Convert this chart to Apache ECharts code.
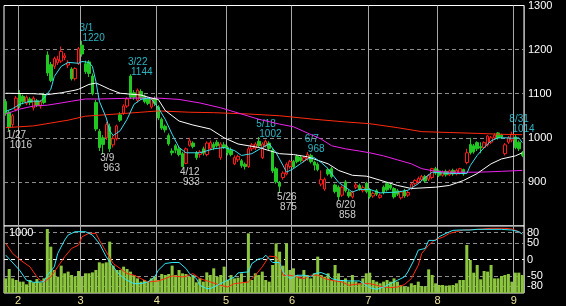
<!DOCTYPE html>
<html><head><meta charset="utf-8">
<script src="https://cdn.jsdelivr.net/npm/echarts@6/dist/echarts.min.js"></script>
<style>html,body{margin:0;padding:0;background:#000;}#c{width:566px;height:306px;}</style>
</head><body><div id="c"></div>
<script>
// trading days per month (2022)
const monthDays = [
  [1, [26,27,28,31]],
  [2, [1,2,3,4,7,8,9,10,14,15,16,17,18,21,22,24,25,28]],
  [3, [1,2,3,4,7,8,9,10,11,14,15,16,17,18,22,23,24,25,28,29,30,31]],
  [4, [1,4,5,6,7,8,11,12,13,14,15,18,19,20,21,22,25,26,27,28]],
  [5, [2,6,9,10,11,12,13,16,17,18,19,20,23,24,25,26,27,30,31]],
  [6, [1,2,3,6,7,8,9,10,13,14,15,16,17,20,21,22,23,24,27,28,29,30]],
  [7, [1,4,5,6,7,8,11,12,13,14,15,19,20,21,22,25,26,27,28,29]],
  [8, [1,2,3,4,5,8,9,10,12,15,16,17,18,19,22,23,24,25,26,29,30,31]],
  [9, [1,2,5]]
];
const opens = [1082,1058,1030,1064,1100,1094,1078,1088,1068,1084,1072,1098,1188,1166,1162,1170,1174,1182,1165,1156,1134,1168,1210,1168,1172,1140,1080,1015,1000,1000,1025,984,998,1052,1056,1072,1140,1102,1085,1105,1095,1088,1070,1088,1070,1042,1026,1005,970,982,975,964,942,983,988,966,962,975,962,976,985,990,955,984,978,972,941,950,948,940,935,975,977,992,955,982,988,972,930,898,910,918,935,946,958,956,948,952,960,945,940,895,884,928,930,893,888,870,900,877,866,888,892,880,897,882,868,880,865,888,896,893,885,880,864,880,870,885,896,900,905,912,906,910,930,925,915,924,916,926,918,920,928,944,985,982,989,980,978,984,990,1000,1011,1006,964,990,995,1002,990,966];
const closes = [1056,1024,1050,1090,1072,1082,1092,1080,1090,1074,1082,1080,1147,1130,1180,1178,1196,1186,1170,1134,1157,1202,1190,1150,1146,1100,1020,978,985,1030,975,998,1027,1040,1072,1088,1092,1092,1108,1090,1082,1078,1088,1078,1045,1022,1018,986,966,972,962,935,975,993,980,955,968,965,988,989,978,982,986,978,966,962,955,958,937,935,975,984,986,982,986,992,976,925,900,890,920,940,946,934,946,948,955,962,946,938,928,905,906,918,912,878,866,888,880,868,876,893,884,887,878,866,874,872,870,876,882,886,866,872,877,868,876,895,903,908,912,902,915,930,920,915,922,916,925,918,926,930,918,966,966,968,975,977,989,1004,1000,1006,1000,1002,984,1000,1008,978,975,960];
const lows = [1050,1016,1024,1060,1068,1076,1074,1074,1062,1070,1066,1076,1140,1126,1156,1165,1170,1176,1158,1130,1130,1165,1184,1145,1138,1096,1015,970,963,995,968,978,994,1036,1052,1068,1088,1086,1080,1086,1078,1074,1066,1072,1040,1018,1012,982,960,965,958,933,940,980,976,950,955,960,958,972,972,978,950,975,960,958,938,945,932,928,932,970,972,978,952,978,972,920,896,875,905,915,930,930,942,944,944,948,942,926,924,890,880,914,908,874,858,866,876,864,862,884,880,876,874,862,864,868,862,872,878,882,862,868,860,864,866,882,892,896,902,898,902,906,916,911,912,912,913,914,915,917,914,940,962,964,970,965,975,980,986,996,996,998,960,986,990,974,970,956];
const highs = [1088,1062,1054,1095,1108,1098,1096,1092,1094,1088,1086,1102,1196,1172,1184,1186,1207,1192,1176,1160,1160,1206,1220,1175,1176,1146,1086,1020,1006,1036,1032,1005,1030,1058,1076,1092,1144,1108,1112,1110,1098,1092,1092,1094,1074,1046,1030,1010,976,986,980,968,978,1000,992,970,972,980,992,994,990,995,990,990,982,978,960,962,952,944,980,988,990,1002,990,996,992,976,934,902,924,944,950,950,962,960,958,968,964,948,944,926,910,932,934,896,892,892,904,882,880,898,896,892,900,886,878,884,874,892,900,897,888,884,880,884,880,898,906,912,916,916,918,932,934,928,926,928,928,930,930,932,930,975,1000,986,992,990,992,1006,1004,1010,1013,1009,988,1004,1014,1006,994,970];
const volumes = [244,400,244,217,189,189,144,217,178,233,178,244,1067,772,383,272,456,328,356,300,272,367,272,328,328,344,383,511,494,511,856,456,383,383,439,400,356,300,244,189,217,189,244,272,217,317,300,317,456,300,383,328,317,272,300,178,244,189,344,300,411,272,300,439,217,300,244,256,328,178,994,217,328,300,356,217,189,467,828,689,456,828,383,411,300,244,383,300,244,328,606,300,272,328,217,467,328,217,244,189,300,189,161,244,328,339,217,189,161,189,217,189,244,189,133,106,106,161,133,189,117,106,394,300,161,133,133,122,128,133,161,217,217,800,550,339,467,228,367,356,467,244,244,283,300,317,189,339,339,300];
// moving averages: [day index, price]
const maShort = [[0,1060],[2,1066],[4,1076],[7,1083],[10,1083],[11,1090],[13,1110],[14,1139],[16,1162],[18,1171],[21,1169],[22,1173],[24,1171],[25,1162],[26,1128],[27,1083],[29,1045],[30,1016],[31,1005],[33,1016],[35,1042],[37,1076],[39,1087],[41,1090],[42,1088],[44,1068],[46,1042],[48,1008],[50,978],[52,966],[56,966],[60,975],[63,978],[66,971],[68,960],[71,964],[74,978],[76,986],[78,966],[80,937],[81,922],[83,930],[85,941],[87,952],[89,955],[91,944],[93,930],[94,919],[96,899],[98,888],[100,877],[102,883],[105,883],[108,875],[113,877],[116,881],[119,896],[121,910],[123,922],[126,920],[130,919],[133,919],[134,937],[136,960],[138,978],[140,993],[142,1000],[144,1000],[146,999],[148,1000],[149,989]];
const maMid = [[0,1101],[8,1100],[12,1098],[16,1102],[20,1108],[21,1110],[24,1121],[26,1124],[27,1121],[30,1110],[33,1101],[36,1099],[39,1097],[42,1090],[44,1087],[46,1062],[50,1038],[54,1029],[59,1020],[63,1000],[67,986],[73,978],[79,964],[83,962],[87,957],[93,941],[96,926],[100,915],[104,913],[105,911],[113,892],[117,885],[124,888],[128,892],[132,903],[136,919],[140,941],[143,952],[147,959],[149,966]];
const maLong = [[0,1054],[4,1065],[8,1072],[12,1074],[16,1079],[19,1083],[23,1088],[27,1088],[37,1090],[44,1090],[50,1087],[56,1079],[62,1068],[68,1054],[73,1042],[79,1031],[83,1025],[87,1011],[91,997],[94,982],[98,975],[102,970],[105,966],[109,959],[113,950],[117,941],[120,930],[124,924],[128,922],[132,922],[136,922],[140,923],[143,924],[149,926]];
const maVeryLong = [[0,1023],[8,1027],[18,1040],[23,1049],[32,1054],[39,1058],[44,1061],[53,1058],[60,1057],[70,1054],[79,1050],[89,1042],[98,1036],[105,1032],[113,1023],[120,1014],[128,1012],[136,1010],[143,1008],[149,1007]];
const oscFast = [[0,13],[4,-32],[6,-62],[8,-68],[9,-68],[11,-66],[12,-47],[14,-22],[15,18],[17,58],[18,73],[20,83],[23,83],[25,73],[27,48],[29,8],[31,-22],[33,-47],[35,-62],[37,-72],[39,-72],[41,-67],[43,-52],[44,-32],[46,-12],[48,-9],[50,-9],[52,-27],[53,-42],[55,-57],[56,-77],[58,-87],[59,-87],[61,-77],[63,-67],[66,-52],[67,-40],[70,-37],[71,-12],[73,2],[74,2],[75,13],[77,-9],[79,-9],[80,-37],[82,-57],[84,-47],[86,-47],[88,-52],[89,-42],[91,-39],[93,-47],[94,-57],[96,-62],[99,-64],[102,-64],[104,-77],[105,-84],[107,-89],[109,-82],[111,-72],[113,-62],[115,-52],[116,-37],[118,3],[119,28],[121,33],[122,57],[124,57],[125,68],[127,78],[129,87],[131,88],[134,88],[136,90],[143,90],[146,88],[148,83],[149,76]];
const oscSlow = [[0,48],[2,18],[4,0],[7,-22],[9,-52],[10,-62],[11,-67],[13,-52],[15,-22],[17,8],[19,33],[21,43],[22,68],[24,78],[26,78],[27,58],[29,23],[31,-12],[33,-27],[35,-42],[37,-47],[39,-57],[41,-67],[44,-64],[46,-57],[48,-49],[51,-52],[52,-50],[54,-42],[56,-57],[59,-67],[62,-77],[64,-82],[66,-72],[70,-67],[72,-47],[74,-22],[76,10],[78,8],[79,-7],[80,-47],[82,-47],[84,-52],[86,-57],[88,-47],[90,-47],[92,-57],[94,-62],[95,-64],[97,-67],[99,-77],[101,-74],[103,-72],[105,-72],[107,-77],[109,-82],[111,-84],[113,-82],[115,-75],[117,-57],[119,-17],[120,18],[122,43],[124,60],[126,66],[128,78],[130,83],[132,88],[136,90],[140,93],[144,93],[146,91],[148,83],[149,76]];
// annotations
const annDates = ['1/27','3/1','3/9','3/22','4/12','5/18','5/26','6/7','6/20','8/31'];
const annIndex = [1,22,28,36,51,73,79,87,96,146];
const annPrice = [1016,1220,963,1144,933,1002,875,968,858,1014];
const annKind = ['low','high','low','high','low','high','low','high','low','high'];
const priceTicks = [900,1000,1100,1200,1300];
const oscTicks = [80,50,0,-50,-80];

const dates = [];
const monthStart = {};
monthDays.forEach(([m, ds]) => ds.forEach((d, i) => { const s = m + '/' + d; if (i === 0) monthStart[s] = m; dates.push(s); }));
const candles = dates.map((_, i) => [opens[i], closes[i], lows[i], highs[i]]);
const isStart = (idx, v) => monthStart[dates[idx]] !== undefined && idx > 0;

const FONT = 'Liberation Sans';
const CYAN = '#38e0f0';
const hi = [], lo = [];
annDates.forEach((d, i) => {
  const item = { value: [annIndex[i], annPrice[i]], name: d };
  (annKind[i] === 'high' ? hi : lo).push(item);
});
const annLabel = (color, va, pos) => ({
  show: true, position: pos, align: 'left', verticalAlign: va,
  formatter: p => '{d|' + p.name + '}\n{v|' + p.value[1] + '}',
  rich: {
    d: { color, fontSize: 10, fontFamily: FONT, lineHeight: 10 },
    v: { color, fontSize: 10, fontFamily: FONT, lineHeight: 10, padding: [0, 0, 0, 3] }
  }
});
const grayColors = (n, idxs, special) => { const a = []; for (let i = 0; i < n; i++) a.push('transparent'); idxs.forEach(i => a[i] = '#8c8c8c'); if (special) a[special[0]] = special[1]; return a; };

const chart = echarts.init(document.getElementById('c'), null, { renderer: 'canvas' });
chart.setOption({
  animation: false,
  backgroundColor: '#000',
  grid: [
    { left: 4, top: 3, width: 520, height: 223, show: true, borderColor: '#fff', borderWidth: 1, backgroundColor: '#000' },
    { left: 4, top: 226, width: 520, height: 67, show: true, borderColor: '#fff', borderWidth: 1, backgroundColor: '#000' }
  ],
  xAxis: [
    { type: 'category', gridIndex: 0, data: dates, boundaryGap: true,
      axisLine: { show: false }, axisTick: { show: false }, axisLabel: { show: false },
      splitLine: { show: true, interval: isStart, lineStyle: { color: '#a8a8a8', width: 1 } } },
    { type: 'category', gridIndex: 1, data: dates, boundaryGap: true,
      axisLine: { show: false }, axisTick: { show: false },
      axisLabel: { show: true, interval: isStart, formatter: v => String(monthStart[v]), color: '#ece49a', fontSize: 11, fontFamily: FONT, margin: 2, padding: [0, 3, 0, 0] },
      splitLine: { show: true, interval: isStart, lineStyle: { color: '#a8a8a8', width: 1 } } }
  ],
  yAxis: [
    { type: 'value', gridIndex: 0, position: 'right', min: 800, max: 1300, interval: 100,
      axisLine: { show: false }, axisTick: { show: false },
      axisLabel: { color: '#fff', fontSize: 11, fontFamily: FONT, margin: 4, formatter: v => priceTicks.includes(v) ? String(v) : '' },
      splitLine: { show: true, lineStyle: { type: [4, 3], width: 1, color: ['transparent', '#8c8c8c', '#8c8c8c', '#8c8c8c', '#8c8c8c', 'transparent'] } } },
    { type: 'value', gridIndex: 1, position: 'left', min: 0, max: 1117, interval: 1000,
      axisLine: { show: false }, axisTick: { show: false }, splitLine: { show: false },
      axisLabel: { inside: true, color: '#fff', fontSize: 11, fontFamily: FONT, margin: 5, formatter: v => v === 1000 ? '1000' : '' } },
    { type: 'value', gridIndex: 1, position: 'right', min: -100, max: 100, interval: 10,
      axisLine: { show: false }, axisTick: { show: false },
      axisLabel: { color: '#fff', fontSize: 11, fontFamily: FONT, margin: 3, formatter: v => oscTicks.includes(v) ? String(v) : '' },
      splitLine: { show: true, lineStyle: { type: [4, 3], width: 1, color: grayColors(21, [2, 5, 15, 18], [10, '#ffffff']) } } }
  ],
  series: [
    { type: 'bar', xAxisIndex: 1, yAxisIndex: 1, data: volumes, barWidth: 3, itemStyle: { color: '#8cc63f' }, silent: true },
    { type: 'line', xAxisIndex: 1, yAxisIndex: 2, data: oscSlow, symbol: 'none', lineStyle: { color: '#ff2a10', width: 1 }, silent: true },
    { type: 'line', xAxisIndex: 1, yAxisIndex: 2, data: oscFast, symbol: 'none', lineStyle: { color: '#30e8f8', width: 1 }, silent: true },
    { type: 'candlestick', xAxisIndex: 0, yAxisIndex: 0, data: candles, barWidth: 3,
      itemStyle: { color: '#000', color0: '#22c822', borderColor: '#ff1a1a', borderColor0: '#22c822', borderWidth: 1 }, silent: true },
    { type: 'line', data: maVeryLong, symbol: 'none', lineStyle: { color: '#ff2a10', width: 1 }, silent: true },
    { type: 'line', data: maLong, symbol: 'none', lineStyle: { color: '#ee22ee', width: 1 }, silent: true },
    { type: 'line', data: maMid, symbol: 'none', lineStyle: { color: '#ffffff', width: 1 }, silent: true },
    { type: 'line', data: maShort, symbol: 'none', lineStyle: { color: CYAN, width: 1 }, silent: true },
    { type: 'scatter', data: hi, symbolSize: 1, itemStyle: { color: 'transparent' }, label: annLabel(CYAN, 'bottom', [-2, 3]), silent: true },
    { type: 'scatter', data: lo, symbolSize: 1, itemStyle: { color: 'transparent' }, label: annLabel('#ffffff', 'top', [-2, 0]), silent: true }
  ]
});
</script></body></html>
